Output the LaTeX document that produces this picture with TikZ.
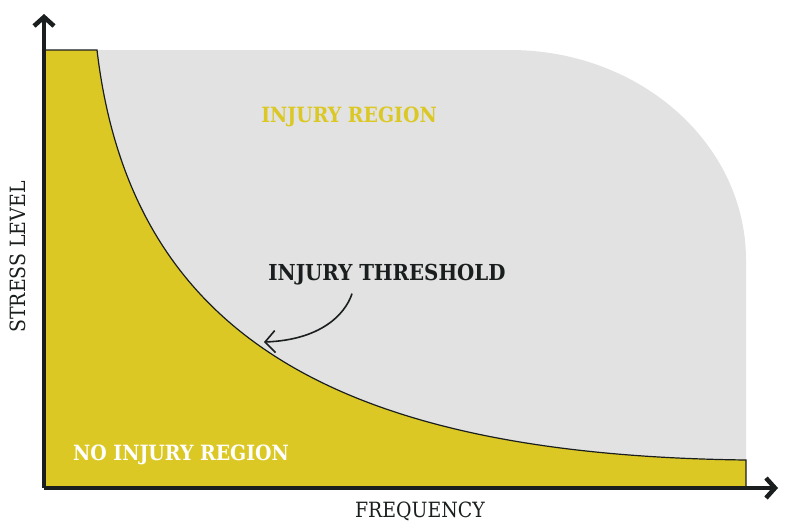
\documentclass[tikz,border=0pt]{standalone}
\usepackage{fontspec}
\setmainfont{DejaVu Serif Condensed}
\usetikzlibrary{arrows.meta}
\definecolor{injyellow}{HTML}{DCC825}
\definecolor{injgray}{HTML}{E1E2E1}
\definecolor{injdark}{HTML}{1A1E1E}
\tikzset{
  axis/.style={injdark,line width=4.5pt,-{Straight Barb[length=9pt,width=20pt,line width=4.5pt]}},
  lbl/.style={inner sep=0pt,font=\fontsize{21}{21}\selectfont},
  boldlbl/.style={lbl,font=\fontsize{21}{21}\selectfont\bfseries}
}
\begin{document}
\begin{tikzpicture}[x=1pt,y=-1pt]
\useasboundingbox (0,0) rectangle (786,522);

% injury region
\fill[injgray] (97,50) -- (510,50) arc (-90:0:236 and 210) -- (746,460)
  .. controls (330,455) and (130,330) .. (97,50) -- cycle;

% no injury region
\fill[injyellow] (46,50) -- (97,50) .. controls (130,330) and (330,455) .. (746,460)
  -- (746,488) -- (46,488) -- cycle;
\draw[injdark,line width=1.2pt] (46,50) -- (97,50) .. controls (130,330) and (330,455) .. (746,460)
  -- (746,488);

% axes
\coordinate (origin) at (44,488);
\coordinate (ytip) at (44,14);
\coordinate (xtip) at (778,488);
\draw[axis] (origin) -- (ytip);
\draw[axis] (origin) -- (xtip);

% labels
\node[boldlbl,text=injyellow] (injreg) at (349,117) {INJURY REGION};
\node[boldlbl,text=injdark,font=\fontsize{22}{22}\selectfont\bfseries] (thresh) at (387,275) {INJURY THRESHOLD};
\node[boldlbl,text=white] (noinj) at (181,455) {NO INJURY REGION};
\node[lbl,text=injdark,rotate=90] (ylbl) at (18,257) {STRESS LEVEL};
\node[lbl,text=injdark,anchor=base] (xlbl) at (420,517) {FREQUENCY};

\coordinate (threshpt) at (264,342);
\draw[injdark,line width=1.6pt,-{Straight Barb[length=10pt,width=22pt]}]
  (thresh.south) ++(-35,8) .. controls (345,315) and (320,340) .. (threshpt);
\end{tikzpicture}
\end{document}
